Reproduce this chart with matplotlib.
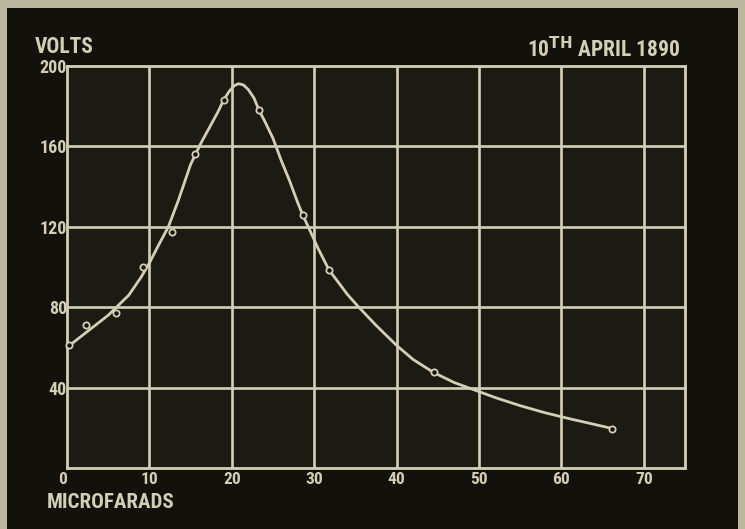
import matplotlib
matplotlib.use("Agg")
import matplotlib.pyplot as plt
from matplotlib.patches import Rectangle
from matplotlib import font_manager

# ---- data ----
obs_microfarads = [0.2, 2.3, 6.0, 9.2, 12.8, 15.5, 19.0, 23.3, 28.6, 31.8, 44.5, 66.2]
obs_volts = [61, 71, 77, 100, 117.5, 156, 183, 178, 126, 98.5, 48, 19.6]

curve_microfarads = [0, 2.5, 5, 6, 7.5, 9, 10, 11, 12.3, 13.5, 15, 16.3, 17.5, 18.3,
                     19, 19.7, 20.3, 20.8, 21.4, 22, 22.7, 23.3, 24, 25, 26, 27, 28,
                     28.6, 29.5, 30.5, 31.8, 33, 34, 35.3, 37.5, 40, 42, 44.5, 47, 49,
                     52, 55, 58, 61, 64, 66.2]
curve_volts = [60, 68, 76, 80, 86, 95, 102, 110, 120, 133, 151, 162, 171, 177,
               183, 187.5, 190.2, 191.2, 190.6, 188.3, 184, 178, 172.5, 164, 153, 143, 132,
               126, 118, 109, 98.5, 92, 86.5, 80.5, 71, 61, 54, 47.5, 42.5, 39.5,
               35, 31, 27.5, 24.5, 21.7, 19.6]

x_ticks = [0, 10, 20, 30, 40, 50, 60, 70]
x_tick_labels = ["0", "10", "20", "30", "40", "50", "60", "70"]
y_ticks = [0, 40, 80, 120, 160, 200]
y_tick_labels = ["", "40", "80", "120", "160", "200"]

W, H = 745, 529
ink = "#d2d0b4"
dark = "#12110c"
paper = "#b9b79c"

names = {f.name for f in font_manager.fontManager.ttflist}
fam = "DejaVu Sans"
for cand in ["Liberation Sans Narrow", "Roboto Condensed", "Open Sans Condensed",
             "Liberation Sans"]:
    if cand in names:
        fam = cand
        break

fig = plt.figure(figsize=(W / 100, H / 100), dpi=100, facecolor=paper)
fig.patches.append(Rectangle((7 / W, 0), (738 - 7) / W, (H - 8) / H,
                             transform=fig.transFigure, facecolor=dark,
                             edgecolor="none", zorder=-10))

ax = fig.add_axes([67 / W, (H - 468) / H, (685 - 67) / W, (468 - 66) / H])
ax.set_zorder(5)
ax.set_facecolor("#1b1a13")
ax.set_xlim(0, 75)
ax.set_ylim(0, 200)

for xv in x_ticks[1:]:
    ax.axvline(xv, color=ink, lw=1.9, zorder=1)
for yv in y_ticks[1:-1]:
    ax.axhline(yv, color=ink, lw=1.9, zorder=1)
for s in ax.spines.values():
    s.set_color(ink)
    s.set_linewidth(2.0)

ax.plot(curve_microfarads, curve_volts, color=ink, lw=2.0, zorder=3,
        solid_joinstyle="round", solid_capstyle="round", clip_on=False)
ax.plot(obs_microfarads, obs_volts, linestyle="none", marker="o", ms=4.5,
        mfc=dark, mec=ink, mew=1.3, zorder=4, clip_on=False)

ax.set_xticks(x_ticks)
ax.set_xticklabels(x_tick_labels)
ax.set_yticks(y_ticks)
ax.set_yticklabels(y_tick_labels)
ax.tick_params(length=0, colors=ink)
ax.tick_params(axis="x", pad=3, labelsize=12.5)
ax.tick_params(axis="y", pad=0, labelsize=13)
for lab in ax.get_xticklabels() + ax.get_yticklabels():
    lab.set_fontfamily(fam)
    lab.set_fontweight("bold")
ax.get_xticklabels()[0].set_horizontalalignment("right")

fig.text(35 / W, 1 - 47 / H, "VOLTS", color=ink, fontsize=15.5, fontweight="bold",
         family=fam, ha="left", va="center")
fig.text(47 / W, 1 - 503 / H, "MICROFARADS", color=ink, fontsize=15, fontweight="bold",
         family=fam, ha="left", va="center")
fig.text(527 / W, 1 - 50 / H, r"10$^{\mathbf{TH}}$ APRIL 1890", color=ink, fontsize=15.5,
         fontweight="bold", family=fam, ha="left", va="center")

fig.savefig("out.png", dpi=100, facecolor=paper)
